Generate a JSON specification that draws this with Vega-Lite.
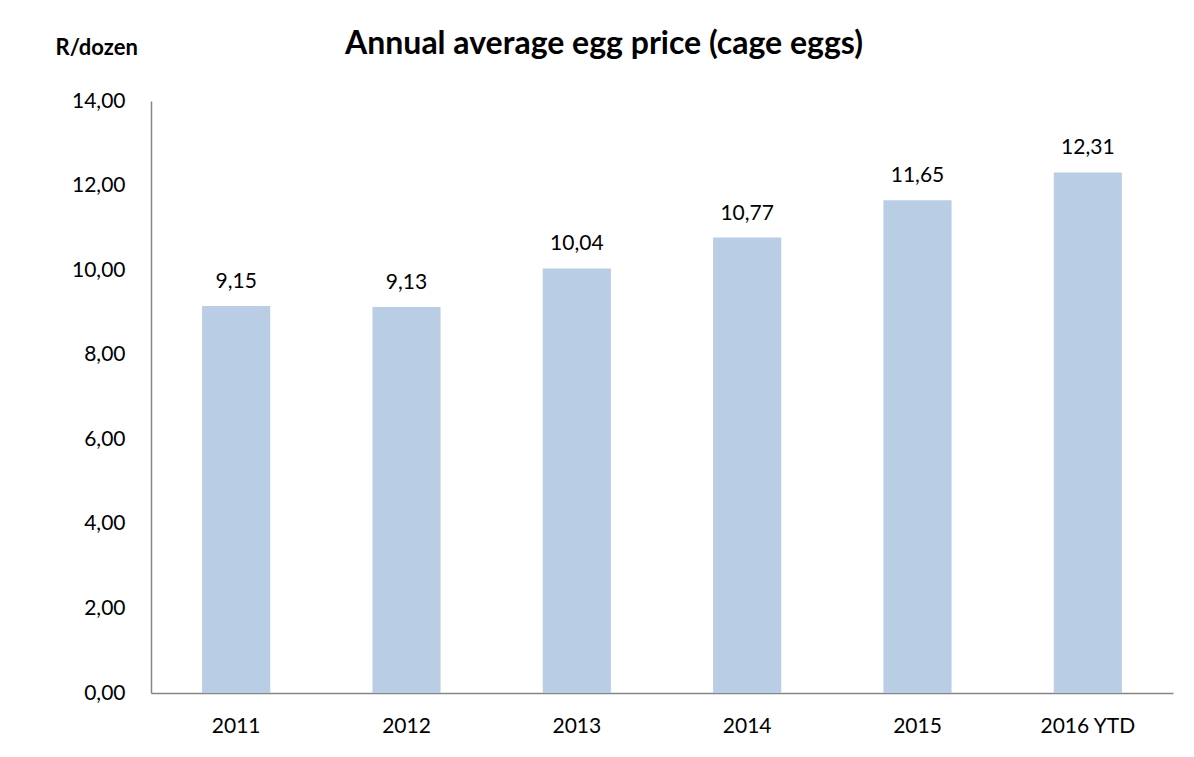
{
  "$schema": "https://vega.github.io/schema/vega-lite/v6.json",
  "width": 1022,
  "height": 592,
  "autosize": {"type": "none"},
  "padding": {"left": 151, "top": 101, "right": 21, "bottom": 64},
  "background": "white",
  "title": {
    "text": "Annual average egg price (cage eggs)",
    "font": "Lato",
    "fontSize": 32,
    "fontWeight": "bold",
    "color": "#000000",
    "anchor": "middle",
    "frame": "group",
    "baseline": "alphabetic",
    "dx": -58,
    "offset": -50
  },
  "data": {
    "values": [
      {"year": "2011", "price": 9.15},
      {"year": "2012", "price": 9.13},
      {"year": "2013", "price": 10.04},
      {"year": "2014", "price": 10.77},
      {"year": "2015", "price": 11.65},
      {"year": "2016 YTD", "price": 12.31}
    ]
  },
  "config": {
    "view": {"stroke": null},
    "font": "Lato"
  },
  "encoding": {
    "x": {
      "field": "year",
      "type": "nominal",
      "sort": null,
      "scale": {"paddingInner": 0.6, "paddingOuter": 0.3},
      "axis": {
        "title": null,
        "labelAngle": 0,
        "labelFont": "Lato",
        "labelFontSize": 21,
        "labelColor": "#000000",
        "labelPadding": 22,
        "ticks": false,
        "domainColor": "#868686",
        "domainWidth": 1.5
      }
    },
    "y": {
      "field": "price",
      "type": "quantitative",
      "scale": {"domain": [0, 14]},
      "axis": {
        "values": [0, 2, 4, 6, 8, 10, 12, 14],
        "labelExpr": "replace(format(datum.value, '.2f'), '.', ',')",
        "grid": false,
        "ticks": false,
        "labelFont": "Lato",
        "labelFontSize": 21,
        "labelColor": "#000000",
        "labelPadding": 26,
        "domainColor": "#868686",
        "domainWidth": 1.5,
        "title": "R/dozen",
        "titleAngle": 0,
        "titleFont": "Lato",
        "titleFontSize": 22,
        "titleFontWeight": "bold",
        "titleColor": "#000000",
        "titleAlign": "left",
        "titleBaseline": "alphabetic",
        "titleX": -96,
        "titleY": -47
      }
    }
  },
  "layer": [
    {
      "mark": {"type": "bar", "color": "#B9CDE5"}
    },
    {
      "mark": {
        "type": "text",
        "baseline": "alphabetic",
        "dy": -18,
        "font": "Lato",
        "fontSize": 21,
        "color": "#000000",
        "text": {"expr": "replace(format(datum.price, '.2f'), '.', ',')"}
      }
    }
  ]
}
